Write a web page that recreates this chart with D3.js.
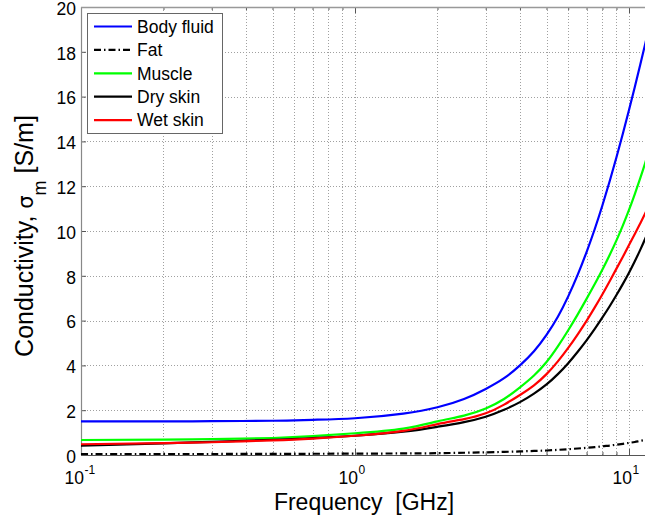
<!DOCTYPE html>
<html><head><meta charset="utf-8">
<script src="https://cdn.jsdelivr.net/npm/d3@7"></script>
<style>
body{margin:0;background:#fff}
svg{display:block}
text{font-family:"Liberation Sans",Arial,Helvetica,sans-serif;fill:#000}
</style>
</head><body>
<svg id="chart" width="645" height="525"></svg>
<script>
// ---- data (frequency in GHz, conductivity in S/m) ----
const freq      = [0.1,0.2,0.3,0.5,0.7,1,1.5,2,2.5,3,3.5,4,4.5,5,5.5,6,6.5,7,7.5,8,8.5,9,9.5,10,10.5,11,11.5,12];
const bodyFluid = [1.50,1.50,1.51,1.53,1.57,1.64,1.85,2.13,2.50,2.95,3.43,4.00,4.63,5.36,6.17,7.08,8.05,9.06,10.09,11.15,12.22,13.29,14.35,15.40,16.43,17.44,18.43,19.40];
const fat       = [0.04,0.04,0.045,0.05,0.055,0.06,0.07,0.08,0.10,0.12,0.14,0.16,0.18,0.20,0.23,0.26,0.29,0.32,0.35,0.39,0.42,0.46,0.50,0.54,0.58,0.63,0.67,0.71];
const muscle    = [0.67,0.69,0.71,0.76,0.84,0.97,1.18,1.50,1.76,2.08,2.50,3.02,3.55,4.15,4.85,5.57,6.28,6.97,7.63,8.28,8.93,9.58,10.25,10.94,11.65,12.37,13.10,13.84];
const drySkin   = [0.42,0.52,0.59,0.68,0.75,0.86,1.04,1.26,1.47,1.71,2.02,2.36,2.74,3.15,3.61,4.10,4.61,5.12,5.63,6.14,6.64,7.14,7.64,8.14,8.65,9.17,9.70,10.24];
const wetSkin   = [0.48,0.53,0.57,0.65,0.73,0.86,1.08,1.38,1.60,1.86,2.25,2.68,3.11,3.61,4.18,4.78,5.39,5.99,6.59,7.18,7.76,8.32,8.85,9.37,9.87,10.35,10.83,11.30];

const seriesNames  = ["Body fluid","Fat","Muscle","Dry skin","Wet skin"];
const seriesColors = ["#0000ff","#000000","#00ff00","#000000","#ff0000"];
const seriesDash   = [null,"7,3,1.5,3",null,null,null];
const seriesValues = [bodyFluid,fat,muscle,drySkin,wetSkin];

const yTicks      = [0,2,4,6,8,10,12,14,16,18,20];
const xMajorTicks = [0.1,1,10];
const xMajorExp   = ["-1","0","1"];
const xMinorTicks = [0.2,0.3,0.4,0.5,0.6,0.7,0.8,0.9,2,3,4,5,6,7,8,9];

const xLabel = "Frequency  [GHz]";

// ---- layout ----
const svg = d3.select("#chart");
const L = 81, T = 7, B = 455;
const decade = 274;
const R = L + decade * (Math.log10(12) + 1);

const x = d3.scaleLog().domain([0.1, 12]).range([L, R]);
const y = d3.scaleLinear().domain([0, 20]).range([B, T]);

svg.append("defs").append("clipPath").attr("id","clip")
  .append("rect").attr("x",L).attr("y",T).attr("width",R-L).attr("height",B-T);

// grid
const grid = svg.append("g").attr("stroke","#a0a0a0").attr("stroke-width",1).attr("stroke-dasharray","1,2");
grid.selectAll("line.gx").data(xMajorTicks.concat(xMinorTicks).filter(d=>d>0.1)).join("line")
  .attr("x1",d=>Math.round(x(d))+0.5).attr("x2",d=>Math.round(x(d))+0.5).attr("y1",T).attr("y2",B);
grid.selectAll("line.gy").data(yTicks.filter(d=>d>0 && d<20)).join("line")
  .attr("x1",L).attr("x2",R).attr("y1",d=>Math.round(y(d))+0.5).attr("y2",d=>Math.round(y(d))+0.5);

// axes box
const axisColor = "#555";
const yAxis = svg.append("g").attr("transform",`translate(${L},0)`)
  .call(d3.axisLeft(y).tickValues(yTicks).tickSize(-5).tickPadding(5).tickFormat(d3.format("d")));
yAxis.select(".domain").remove();
yAxis.selectAll("line").attr("stroke",axisColor);
yAxis.selectAll("text").attr("font-size",17.5).attr("dy","0.42em").attr("fill","#000")
  .attr("font-family","Liberation Sans, Arial, sans-serif");

const xAxis = svg.append("g").attr("transform",`translate(0,${B})`)
  .call(d3.axisBottom(x).tickValues(xMajorTicks).tickSize(-6).tickFormat(""));
xAxis.select(".domain").remove();
xAxis.selectAll("line").attr("stroke",axisColor);
const xAxisMinor = svg.append("g").attr("transform",`translate(0,${B})`)
  .call(d3.axisBottom(x).tickValues(xMinorTicks).tickSize(-3).tickFormat(""));
xAxisMinor.select(".domain").remove();
xAxisMinor.selectAll("line").attr("stroke",axisColor);

const xTop = svg.append("g").attr("transform",`translate(0,${T})`)
  .call(d3.axisTop(x).tickValues(xMajorTicks).tickSize(-6).tickFormat(""));
xTop.select(".domain").remove();
xTop.selectAll("line").attr("stroke",axisColor);
const xTopMinor = svg.append("g").attr("transform",`translate(0,${T})`)
  .call(d3.axisTop(x).tickValues(xMinorTicks).tickSize(-3).tickFormat(""));
xTopMinor.select(".domain").remove();
xTopMinor.selectAll("line").attr("stroke",axisColor);

svg.append("line").attr("x1",L+0.5).attr("x2",L+0.5).attr("y1",T).attr("y2",B).attr("stroke","#888").attr("stroke-width",1.2);
svg.append("line").attr("x1",L).attr("x2",R).attr("y1",B+0.5).attr("y2",B+0.5).attr("stroke","#555");
svg.append("line").attr("x1",L).attr("x2",R).attr("y1",T+0.5).attr("y2",T+0.5).attr("stroke","#999").attr("stroke-width",1.5);

// x tick labels 10^n
xMajorTicks.forEach((v,i)=>{
  svg.append("text").attr("x",x(v)+3).attr("y",484).attr("font-size",17.5).attr("text-anchor","end").text("10");
  svg.append("text").attr("x",x(v)+3.5).attr("y",473.5).attr("font-size",12).attr("text-anchor","start").text(xMajorExp[i]);
});

// lines
const line = d3.line().x((d,i)=>x(freq[i])).y(d=>y(d)).curve(d3.curveNatural);
const plot = svg.append("g").attr("clip-path","url(#clip)");
seriesValues.forEach((vals,i)=>{
  plot.append("path").datum(vals).attr("d",line)
    .attr("fill","none").attr("stroke",seriesColors[i]).attr("stroke-width",2.2)
    .attr("stroke-dasharray",seriesDash[i]);
});

// legend
const lg = svg.append("g");
lg.append("rect").attr("x",87.5).attr("y",13.5).attr("width",135).attr("height",120)
  .attr("fill","#fff").attr("stroke","#666").attr("stroke-width",1);
seriesNames.forEach((n,i)=>{
  const cy = 26.5 + i*23.4;
  lg.append("line").attr("x1",94).attr("x2",132).attr("y1",cy).attr("y2",cy)
    .attr("stroke",seriesColors[i]).attr("stroke-width",2.2).attr("stroke-dasharray",seriesDash[i]);
  lg.append("text").attr("x",137).attr("y",cy+6.3).attr("font-size",17.5).text(n);
});

// axis labels
svg.append("text").attr("x",364).attr("y",510).attr("text-anchor","middle").attr("font-size",23)
  .attr("xml:space","preserve").style("white-space","pre").text(xLabel);
const yl = svg.append("text").attr("transform","translate(33,236) rotate(-90)")
  .attr("text-anchor","middle").attr("font-size",25).attr("xml:space","preserve").style("white-space","pre");
yl.append("tspan").text("Conductivity, ");
yl.append("tspan").attr("font-family","DejaVu Sans, sans-serif").attr("font-size",21).text("σ");
yl.append("tspan").attr("font-size",18).attr("dy",13).text("m");
yl.append("tspan").attr("dy",-13).text(" [S/m]");
</script>
</body></html>
